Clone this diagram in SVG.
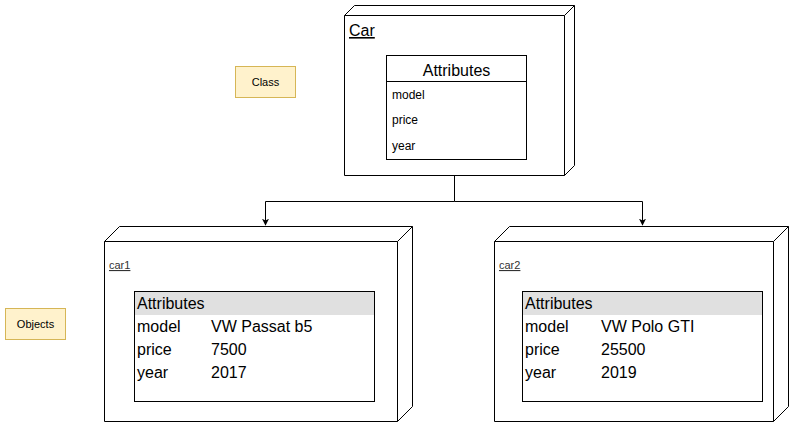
<svg xmlns="http://www.w3.org/2000/svg" width="795" height="427" viewBox="0 0 795 427">
<defs>
<marker id="arr" viewBox="0 0 10 10" refX="9" refY="5" markerWidth="7" markerHeight="7" markerUnits="userSpaceOnUse" orient="auto">
<path d="M0,0 L10,5 L0,10 L2.5,5 Z" fill="#000"/>
</marker>
</defs>
<style>
text{font-family:"Liberation Sans",Arial,sans-serif;fill:#000}
.box{fill:#fff;stroke:#000;stroke-width:1}
.note{fill:#fff2cc;stroke:#d6b656;stroke-width:1}
.s11{font-size:11px}
.s12{font-size:12px}
.s16{font-size:16px}
.lbl{font-size:11px;fill:#333;text-decoration:underline}
.edge{fill:none;stroke:#000;stroke-width:1}
</style>
<rect width="795" height="427" fill="#fff"/>
<g id="class-note">
<rect class="note" x="235.5" y="66.5" width="60" height="31"/>
<text class="s11" x="265.5" y="86" text-anchor="middle">Class</text>
</g>
<g id="objects-note">
<rect class="note" x="5.5" y="308.5" width="60" height="31"/>
<text class="s11" x="35.5" y="328" text-anchor="middle">Objects</text>
</g>
<g id="connectors">
<path class="edge" d="M454.5,175.5 V201.5 H265.5 V225" marker-end="url(#arr)"/>
<path class="edge" d="M454.5,201.5 H642.5 V225" marker-end="url(#arr)"/>
</g>
<g id="car">
<path class="box" d="M344.5,15.5 L354.5,5.5 H574.5 V165.5 L564.5,175.5 H344.5 Z"/>
<path class="edge" d="M344.5,15.5 H564.5 L574.5,5.5 M564.5,15.5 V175.5"/>
<text class="s16" x="349" y="36" text-decoration="underline">Car</text>
<rect class="box" x="386.5" y="55.5" width="140" height="104"/>
<line class="edge" x1="386.5" y1="81.5" x2="526.5" y2="81.5"/>
<text class="s16" x="456.5" y="76" text-anchor="middle">Attributes</text>
<text class="s12" x="392" y="99">model</text>
<text class="s12" x="392" y="124">price</text>
<text class="s12" x="392" y="150">year</text>
</g>
<g id="car1">
<path class="box" d="M104.5,241.5 L119.5,226.5 H412.5 V406.5 L397.5,421.5 H104.5 Z"/>
<path class="edge" d="M104.5,241.5 H397.5 L412.5,226.5 M397.5,241.5 V421.5"/>
<text class="lbl" x="109" y="269">car1</text>
<rect class="box" x="134.5" y="291.5" width="240" height="110"/>
<rect x="135" y="292" width="239" height="23" fill="#e0e0e0"/>
<text class="s16" x="137" y="309">Attributes</text>
<text class="s16" x="137" y="332">model</text>
<text class="s16" x="211" y="332">VW Passat b5</text>
<text class="s16" x="137" y="355">price</text>
<text class="s16" x="211" y="355">7500</text>
<text class="s16" x="137" y="378">year</text>
<text class="s16" x="211" y="378">2017</text>
</g>
<g id="car2">
<path class="box" d="M494.5,241.5 L509.5,226.5 H788.5 V406.5 L773.5,421.5 H494.5 Z"/>
<path class="edge" d="M494.5,241.5 H773.5 L788.5,226.5 M773.5,241.5 V421.5"/>
<text class="lbl" x="499" y="269">car2</text>
<rect class="box" x="522.5" y="291.5" width="240" height="110"/>
<rect x="523" y="292" width="239" height="23" fill="#e0e0e0"/>
<text class="s16" x="525" y="309">Attributes</text>
<text class="s16" x="525" y="332">model</text>
<text class="s16" x="601" y="332">VW Polo GTI</text>
<text class="s16" x="525" y="355">price</text>
<text class="s16" x="601" y="355">25500</text>
<text class="s16" x="525" y="378">year</text>
<text class="s16" x="601" y="378">2019</text>
</g>
</svg>
